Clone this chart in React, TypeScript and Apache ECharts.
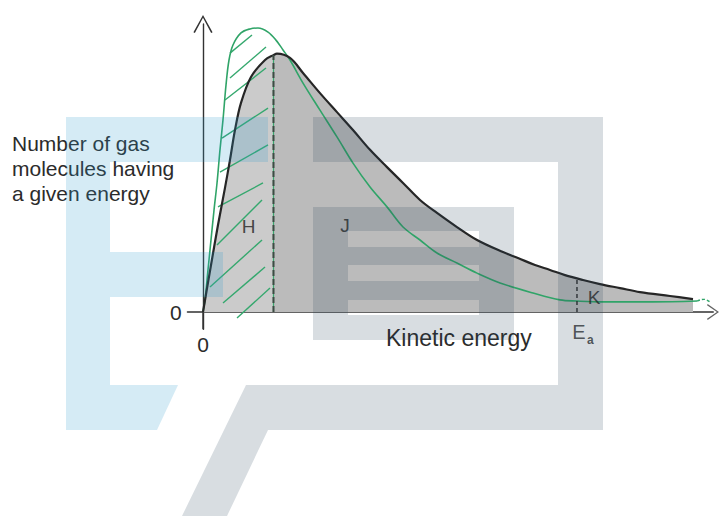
import React, { useEffect, useRef } from "react";
import * as echarts from "echarts";

// x: kinetic energy (arbitrary units), y: number of molecules (arbitrary units)
const blackCurve: [number, number][] = [
  [0, 0], [1.57, 16.3], [2.94, 30.2], [4.31, 43.1], [5.29, 52.8], [6.27, 63.2],
  [7.45, 72.6], [9.41, 81.6], [12.16, 87.5], [13.82, 89.2], [14.5, 89.7],
  [17.06, 88.2], [19.61, 83.0], [22.94, 76.0], [26.27, 69.4], [29.41, 63.2],
  [32.75, 56.3], [36.08, 50.3], [39.22, 44.8], [42.55, 38.9], [45.88, 34.4],
  [49.8, 29.5], [53.73, 25.0], [58.82, 20.8], [61.76, 18.75], [65.1, 16.3],
  [68.04, 14.6], [70.98, 12.8], [74.51, 11.1], [77.84, 9.7], [81.76, 8.3],
  [85.69, 6.9], [91.57, 5.56], [96.08, 4.5],
];

const greenCurve: [number, number][] = [
  [0, 0], [0.39, 4.2], [0.98, 14.6], [1.37, 21.5], [2.16, 35.4], [2.75, 44.8],
  [3.33, 56.3], [3.92, 66.7], [4.51, 78.8], [5.1, 87.5], [5.88, 92.7],
  [7.45, 96.9], [9.22, 98.3], [10.78, 98.6], [12.75, 97.2], [14.31, 94.4],
  [15.69, 91.0], [17.06, 87.5], [19.61, 79.5], [22.94, 70.1], [26.27, 60.8],
  [29.41, 51.7], [32.75, 43.4], [36.08, 36.5], [39.22, 29.5], [42.55, 25.0],
  [45.88, 20.5], [49.8, 17.0], [53.73, 13.5], [58.24, 10.1], [64.71, 6.6],
  [70.0, 4.2], [73.3, 3.8], [78.4, 3.5], [88.2, 3.5], [96.9, 3.8],
];

const greenTail: [number, number][] = [[96.9, 3.8], [98.2, 4.4], [99.6, 3.2]];

const hatchSegments: [number, number][][] = [
  [[5.29, 89.9], [9.61, 96.2]],
  [[5.29, 81.25], [12.35, 92.0]],
  [[4.31, 73.6], [12.35, 84.7]],
  [[3.73, 60.4], [12.75, 70.8]],
  [[3.33, 48.6], [12.75, 58.0]],
  [[2.94, 36.5], [11.76, 44.8]],
  [[2.75, 23.3], [11.57, 38.9]],
  [[1.37, 8.7], [11.57, 25.0]],
  [[3.92, 3.1], [12.16, 15.6]],
  [[6.67, -2.1], [13.14, 8.3]],
];

const dividerX = 13.82;
const dividerTop = 89.2;
const activationX = 73.33;
const activationTop = 11.3;
const yAxisStub: [number, number][] = [[0, -6], [0, 0]];

const regionLabels = [
  { name: "H", value: [8.92, 29.7] },
  { name: "J", value: [27.84, 29.9] },
  { name: "K", value: [76.67, 4.9] },
];
const eaLabels = [
  { name: "E", value: [73.73, -6.94], size: 20 },
  { name: "a", value: [75.95, -9.8], size: 12 },
];

const yTitle = ["Number of gas", "molecules having", "a given energy"];
const xTitle = "Kinetic energy";
const zeroTick = [0];

const FONT = '"Liberation Sans", Arial, Helvetica, sans-serif';
const INK = "#2b2b2b";

const yArrow = "path://M0,18L10,0L20,18L18.5,18.8L10,2.8L1.5,18.8Z";
const xArrow = "path://M0,12L8.5,0L17,12L15.7,12.7L8.5,2.2L1.3,12.7Z";

export default function App() {
  const ref = useRef<HTMLDivElement>(null);

  useEffect(() => {
    const el = ref.current;
    if (!el) return;
    const chart = echarts.init(el, undefined, { renderer: "svg" });

    const hFill = blackCurve.filter((p) => p[0] <= dividerX);
    const jFill = blackCurve.filter((p) => p[0] >= dividerX);

    const wmGray = "rgba(40,65,90,0.18)";
    const wmBlue = "rgba(45,155,205,0.2)";
    const rect = (x: number, y: number, w: number, h: number, fill: string) => ({
      type: "rect",
      silent: true,
      z: 100,
      shape: { x, y, width: w, height: h },
      style: { fill },
    });
    const poly = (points: number[][], fill: string) => ({
      type: "polygon",
      silent: true,
      z: 100,
      shape: { points },
      style: { fill },
    });

    const series: any[] = [
      {
        type: "line",
        data: hFill,
        smooth: 0.35,
        symbol: "none",
        silent: true,
        lineStyle: { width: 0 },
        areaStyle: { color: "#cbcbcb", opacity: 1 },
        z: 1,
      },
      {
        type: "line",
        data: jFill,
        smooth: 0.35,
        symbol: "none",
        silent: true,
        lineStyle: { width: 0 },
        areaStyle: { color: "#bbbbbb", opacity: 1 },
        z: 1,
      },
      ...hatchSegments.map((seg) => ({
        type: "line",
        data: seg,
        symbol: "none",
        silent: true,
        lineStyle: { color: "#35a86e", width: 1.4 },
        z: 2,
      })),
      {
        type: "line",
        data: greenCurve,
        smooth: 0.35,
        symbol: "none",
        silent: true,
        lineStyle: { color: "#30a468", width: 1.6 },
        z: 3,
      },
      {
        type: "line",
        data: greenTail,
        smooth: 0.5,
        symbol: "none",
        silent: true,
        lineStyle: { color: "#30a468", width: 1.4, type: [3, 2] },
        z: 3,
      },
      {
        type: "line",
        data: blackCurve,
        smooth: 0.35,
        symbol: "none",
        silent: true,
        lineStyle: { color: "#262626", width: 2.2 },
        z: 4,
      },
      {
        type: "line",
        data: yAxisStub,
        symbol: "none",
        silent: true,
        clip: false,
        lineStyle: { color: "#333333", width: 1.4 },
        z: 4,
      },
      {
        type: "line",
        data: [[dividerX, 0], [dividerX, dividerTop]],
        symbol: "none",
        silent: true,
        lineStyle: { color: "#3aa56d", width: 1.2 },
        z: 5,
      },
      {
        type: "line",
        data: [[dividerX, 0], [dividerX, dividerTop]],
        symbol: "none",
        silent: true,
        lineStyle: { color: "#3d4a43", width: 2, type: [6, 3] },
        z: 6,
      },
      {
        type: "line",
        data: [[activationX, 0], [activationX, activationTop]],
        symbol: "none",
        silent: true,
        lineStyle: { color: "#222", width: 1.3, type: [4, 3] },
        z: 6,
      },
      {
        type: "scatter",
        data: regionLabels,
        symbolSize: 0,
        silent: true,
        clip: false,
        z: 7,
        label: {
          show: true,
          position: "inside",
          formatter: (p: any) => p.name,
          fontFamily: FONT,
          fontSize: 19,
          color: "#222222",
        },
      },
      {
        type: "scatter",
        data: eaLabels.map((d) => ({
          name: d.name,
          value: d.value,
          label: {
            fontSize: d.size,
            fontWeight: d.name === "a" ? "bold" : "normal",
          },
        })),
        symbolSize: 0,
        silent: true,
        clip: false,
        z: 7,
        label: {
          show: true,
          position: "inside",
          formatter: (p: any) => p.name,
          fontFamily: FONT,
          color: INK,
        },
      },
    ];

    chart.setOption({
      animation: false,
      backgroundColor: "#ffffff",
      grid: {
        left: 187.7,
        right: 6,
        top: 24,
        bottom: 186.72,
        containLabel: false,
        outerBoundsMode: "none",
      },
      xAxis: {
        type: "value",
        min: -3,
        max: 100,
        splitLine: { show: false },
        axisTick: { show: false },
        axisLine: {
          show: true,
          onZero: true,
          lineStyle: { color: "#646464", width: 2 },
          symbol: ["none", xArrow],
          symbolSize: [17, 12],
        },
        axisLabel: {
          show: true,
          customValues: zeroTick,
          formatter: (v: number) => (v === 0 ? "0" : ""),
          margin: 5,
          fontSize: 21,
          fontFamily: FONT,
          color: INK,
        },
      },
      yAxis: {
        type: "value",
        min: -6,
        max: 100,
        splitLine: { show: false },
        axisTick: { show: false },
        axisLine: {
          show: true,
          onZero: true,
          lineStyle: { color: "#333333", width: 1.4 },
          symbol: ["none", yArrow],
          symbolSize: [20, 18],
        },
        axisLabel: {
          show: true,
          customValues: zeroTick,
          formatter: (v: number) => (v === 0 ? "0" : ""),
          margin: 6,
          fontSize: 21,
          fontFamily: FONT,
          color: INK,
        },
      },
      series,
      graphic: [
        {
          type: "text",
          x: 12,
          y: 131,
          z: 5,
          silent: true,
          style: {
            text: yTitle.join("\n"),
            fontSize: 21,
            fontFamily: FONT,
            lineHeight: 25,
            fill: INK,
            verticalAlign: "top",
            align: "left",
          },
        },
        {
          type: "text",
          x: 386,
          y: 326,
          z: 5,
          silent: true,
          style: {
            text: xTitle,
            fontSize: 23,
            fontFamily: FONT,
            fill: INK,
            verticalAlign: "top",
            align: "left",
          },
        },
        // watermark (blue part)
        rect(66, 117, 202, 45, wmBlue),
        rect(66, 162, 44, 223, wmBlue),
        rect(110, 252, 113, 45, wmBlue),
        poly([[66, 385], [178, 385], [157, 430], [66, 430]], wmBlue),
        // watermark (gray part)
        rect(313, 117, 290, 45, wmGray),
        rect(558, 162, 45, 223, wmGray),
        poly([[246, 385], [603, 385], [603, 430], [268, 430], [227, 516], [182, 516]], wmGray),
        rect(313, 207, 35, 133, wmGray),
        rect(479, 207, 35, 133, wmGray),
        rect(348, 207, 131, 24, wmGray),
        rect(348, 247, 131, 18, wmGray),
        rect(348, 281, 131, 19, wmGray),
        rect(348, 315, 131, 25, wmGray),
      ],
    });

    return () => chart.dispose();
  }, []);

  return (
    <div
      ref={ref}
      style={{ position: "fixed", left: 0, top: 0, width: 719, height: 516, background: "#fff" }}
    />
  );
}
